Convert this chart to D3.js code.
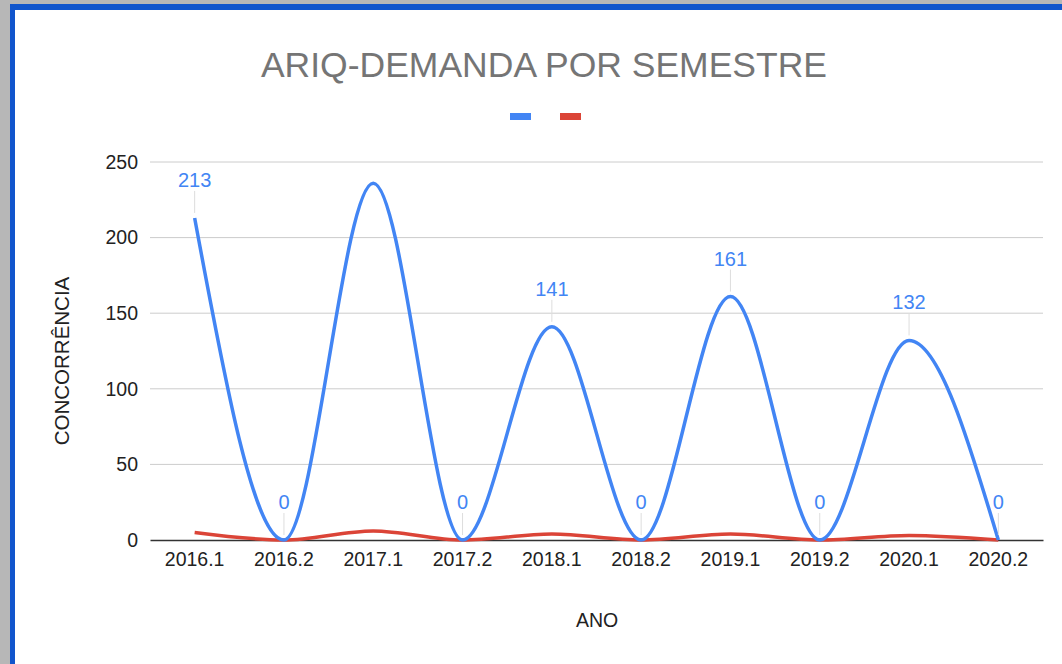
<!DOCTYPE html>
<html>
<head>
<meta charset="utf-8">
<script src="https://cdn.jsdelivr.net/npm/d3@7"></script>
<style>
  body { margin: 0; background: #b7b7b7; }
  svg { display: block; font-family: "Liberation Sans", Arial, sans-serif; }
</style>
</head>
<body>
<div id="chart"></div>
<script>
// dados
const semestres = ["2016.1", "2016.2", "2017.1", "2017.2", "2018.1", "2018.2", "2019.1", "2019.2", "2020.1", "2020.2"]
const demanda = [213, 0, 236, 0, 141, 0, 161, 0, 132, 0]
const vagas = [5, 0, 6, 0, 4, 0, 4, 0, 3, 0]
// rótulos mostrados (o de 2017.1 não aparece na imagem)
const rotulos = [213, 0, null, 0, 141, 0, 161, 0, 132, 0]
const yTicks = [0, 50, 100, 150, 200, 250]

const W = 1062, H = 664
const margin = { left: 150, right: 19, top: 162, bottom: 124 }

const svg = d3.select('#chart').append('svg')
    .attr('width', W)
    .attr('height', H)

// moldura azul
svg.append('rect').attr('x', 10).attr('y', 4).attr('width', W - 10).attr('height', H - 4).attr('fill', '#1155cc')
svg.append('rect').attr('x', 15).attr('y', 10).attr('width', W - 15).attr('height', H - 10).attr('fill', '#fff')

const x = d3.scaleBand().domain(semestres).range([margin.left, W - margin.right])
const y = d3.scaleLinear().domain([0, 250]).range([H - margin.bottom, margin.top])
const cx = d => x(d) + x.bandwidth() / 2

// grade
svg.append('g')
    .selectAll('line')
    .data(yTicks.filter(t => t > 0))
    .enter()
    .append('line')
    .attr('x1', margin.left).attr('x2', W - margin.right)
    .attr('y1', d => y(d)).attr('y2', d => y(d))
    .attr('stroke', '#cccccc')
    .attr('stroke-width', 1)

// eixo y
const yAxis = svg.append('g')
    .attr('transform', `translate(${margin.left},0)`)
    .call(d3.axisLeft(y).tickValues(yTicks).tickSize(0).tickPadding(12))
yAxis.select('.domain').remove()
yAxis.selectAll('text').attr('font-size', 19.5).attr('fill', '#222').attr('font-family', 'Liberation Sans, Arial, sans-serif')

// eixo x
const xAxis = svg.append('g')
    .attr('transform', `translate(0,${y(0)})`)
    .call(d3.axisBottom(x).tickSize(0).tickPadding(12))
xAxis.select('.domain').attr('stroke', '#333').attr('stroke-width', 1.3)
xAxis.selectAll('text').attr('font-size', 19.5).attr('fill', '#222').attr('font-family', 'Liberation Sans, Arial, sans-serif')

// linhas
const line = d3.line()
    .x((d, i) => cx(semestres[i]))
    .y(d => y(d))
    .curve(d3.curveMonotoneX)

svg.append('path').datum(vagas)
    .attr('d', line)
    .attr('fill', 'none')
    .attr('stroke', '#db4437')
    .attr('stroke-width', 3.5)

svg.append('path').datum(demanda)
    .attr('d', line)
    .attr('fill', 'none')
    .attr('stroke', '#4285f4')
    .attr('stroke-width', 3.5)

// rótulos de dados
const lab = svg.append('g')
    .selectAll('g')
    .data(rotulos.map((v, i) => ({ v, s: semestres[i] })).filter(d => d.v !== null))
    .enter()
    .append('g')
lab.append('line')
    .attr('x1', d => cx(d.s)).attr('x2', d => cx(d.s))
    .attr('y1', d => y(d.v) - 27).attr('y2', d => y(d.v) - 5)
    .attr('stroke', '#dddddd')
    .attr('stroke-width', 1)
lab.append('text')
    .attr('x', d => cx(d.s))
    .attr('y', d => y(d.v) - 31)
    .attr('text-anchor', 'middle')
    .attr('font-size', 20)
    .attr('fill', '#4285f4')
    .text(d => d.v)

// título
svg.append('text')
    .attr('x', 544).attr('y', 77)
    .attr('text-anchor', 'middle')
    .attr('font-size', 35.5)
    .attr('fill', '#757575')
    .text('ARIQ-DEMANDA POR SEMESTRE')

// legenda
const cores = ['#4285f4', '#db4437']
svg.append('g')
    .selectAll('rect')
    .data(cores)
    .enter()
    .append('rect')
    .attr('x', (d, i) => 510 + i * 50)
    .attr('y', 113)
    .attr('width', 21).attr('height', 7)
    .attr('fill', d => d)

// títulos dos eixos
svg.append('text')
    .attr('x', cx('2018.2') - 44).attr('y', 627)
    .attr('text-anchor', 'middle')
    .attr('font-size', 19.5)
    .attr('fill', '#222')
    .text('ANO')

svg.append('text')
    .attr('transform', `translate(69,${(y(0) + y(250)) / 2 + 10}) rotate(-90)`)
    .attr('text-anchor', 'middle')
    .attr('font-size', 20.5)
    .attr('fill', '#222')
    .text('CONCORRÊNCIA')
</script>
</body>
</html>
